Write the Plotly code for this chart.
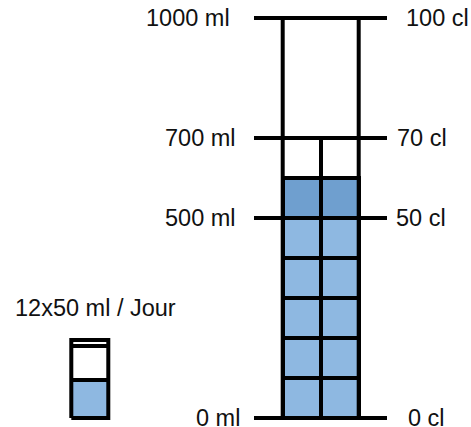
"""
Graduated cylinder: 12 doses of 50 ml per day, drawn as a filled grid.
"""

import plotly.graph_objects as go

# ---- data ----
mark_ml = [0, 500, 700, 1000]
labels_ml = ["0 ml", "500 ml", "700 ml", "1000 ml"]
labels_cl = ["0 cl", "50 cl", "70 cl", "100 cl"]
doses_per_day = 12
dose_ml = 50
capacity_ml = 1000
divided_up_to_ml = 700
legend_text = "12x50 ml / Jour"

# ---- style / layout ----
LIGHT = "#8EB8E1"
DARK = "#6F9FCF"
INK = "black"
LW = 4
FONT = {"family": "Liberation Sans, Arial, sans-serif", "size": 23.5, "color": "#111111"}

W, H = 471, 427
PX_PER_ML = 0.4
ZERO_PX = 418  # pixel row of 0 ml

x_left, x_mid, x_right = 282.7, 321.0, 358.7
tick_x0, tick_x1 = 254, 387
left_label_x = [241, 237, 237, 231]
right_label_x = [407, 395, 396, 405]

n_cols = 2
row_ml = dose_ml * n_cols  # each row holds one dose per column
n_rows = doses_per_day // n_cols
col_w = (x_right - x_left) / n_cols
col_x = [x_left + col_w * (i + 0.5) for i in range(n_cols)]

fig = go.Figure()

# filled cells, one bar per dose
for r in range(n_rows):
    color = DARK if r == n_rows - 1 else LIGHT
    fig.add_trace(go.Bar(
        x=col_x,
        y=[row_ml] * n_cols,
        base=[r * row_ml] * n_cols,
        width=col_w,
        marker={"color": color, "line": {"color": INK, "width": LW}},
        hoverinfo="skip",
        showlegend=False,
    ))


def line(xs, ys):
    fig.add_trace(go.Scatter(
        x=xs, y=ys, mode="lines",
        line={"color": INK, "width": LW},
        hoverinfo="skip", showlegend=False,
    ))


# cylinder walls and divider
line([x_left, x_left], [0, capacity_ml])
line([x_right, x_right], [0, capacity_ml])
line([x_mid, x_mid], [0, divided_up_to_ml])

# graduation ticks
for m in mark_ml:
    line([tick_x0, tick_x1], [m, m])

for m, lab, lx, cl, rx in zip(mark_ml, labels_ml, left_label_x, labels_cl, right_label_x):
    fig.add_annotation(x=lx, y=m, text=lab, showarrow=False, xanchor="right",
                       yanchor="middle", font=FONT, borderpad=0)
    fig.add_annotation(x=rx, y=m, text=cl, showarrow=False, xanchor="left",
                       yanchor="middle", font=FONT, borderpad=0)

# small glass icon (same ml scale)
gx0, gx1 = 71.3, 108.3
glass_top, glass_rim, glass_fill = 195, 180, 95
fig.add_shape(type="rect", x0=gx0, x1=gx1, y0=0, y1=glass_fill,
              fillcolor=LIGHT, line={"width": 0}, layer="below")
line([gx0, gx1], [glass_fill, glass_fill])
line([gx0, gx1], [glass_rim, glass_rim])
line([gx0, gx0, gx1, gx1, gx0], [0, glass_top, glass_top, 0, 0])

fig.add_annotation(x=95, y=(ZERO_PX - 308) / PX_PER_ML, text=legend_text,
                   showarrow=False, xanchor="center", yanchor="middle",
                   font=FONT, borderpad=0)

fig.update_layout(
    width=W, height=H,
    margin={"l": 0, "r": 0, "t": 0, "b": 0},
    paper_bgcolor="white", plot_bgcolor="white",
    barmode="overlay", bargap=0,
    xaxis={"range": [0, W], "visible": False, "fixedrange": True},
    yaxis={"range": [(ZERO_PX - H) / PX_PER_ML, ZERO_PX / PX_PER_ML],
           "visible": False, "fixedrange": True},
)

fig.write_html("out.html", config={"displayModeBar": False},
               post_script="document.body.style.margin='0';")
